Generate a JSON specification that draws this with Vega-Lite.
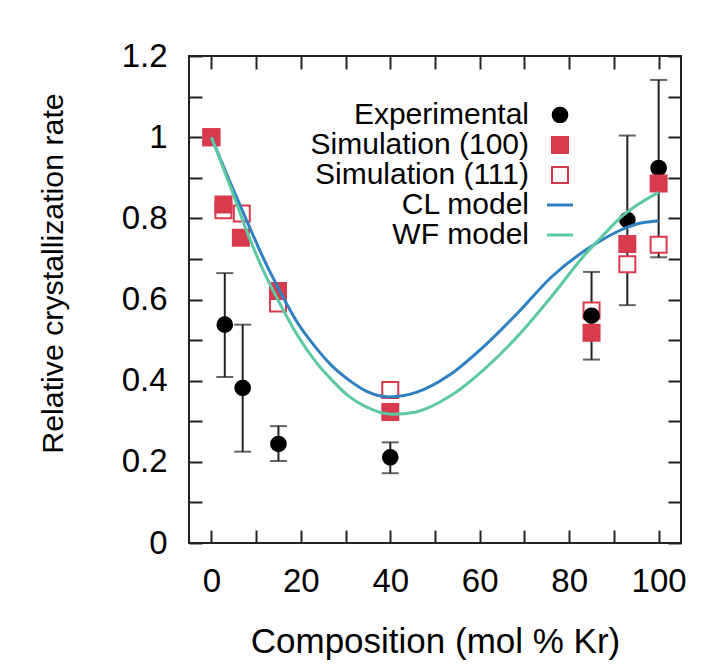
{
  "$schema": "https://vega.github.io/schema/vega-lite/v6.json",
  "width": 492,
  "height": 487,
  "autosize": {"type": "none"},
  "padding": {"left": 189, "top": 56, "right": 46, "bottom": 129},
  "background": "white",
  "config": {
    "font": "Liberation Sans",
    "view": {"stroke": "#222", "strokeWidth": 2},
    "axis": {
      "domain": false,
      "grid": false,
      "zindex": 1,
      "tickColor": "#222",
      "tickWidth": 2,
      "tickSize": -13,
      "labelColor": "black",
      "titleColor": "black",
      "labelFont": "Liberation Sans",
      "labelFontSize": 33,
      "titleFont": "Liberation Sans",
      "titleFontWeight": "normal"
    },
    "legend": {
      "orient": "none",
      "legendX": 356,
      "legendY": 44,
      "padding": 0,
      "labelFont": "Liberation Sans",
      "labelFontSize": 30,
      "labelColor": "black",
      "labelAlign": "right",
      "labelOffset": -46,
      "labelLimit": 400,
      "rowPadding": 0
    }
  },
  "datasets": {
    "points": [
      {"series": "Simulation (111)", "x": 0, "y": 1.0},
      {"series": "Simulation (111)", "x": 2.7, "y": 0.82},
      {"series": "Simulation (111)", "x": 6.8, "y": 0.812},
      {"series": "Simulation (111)", "x": 14.9, "y": 0.59},
      {"series": "Simulation (111)", "x": 40, "y": 0.377},
      {"series": "Simulation (111)", "x": 85, "y": 0.573},
      {"series": "Simulation (111)", "x": 93, "y": 0.687},
      {"series": "Simulation (111)", "x": 100, "y": 0.735},
      {"series": "Experimental", "x": 3, "y": 0.538},
      {"series": "Experimental", "x": 7, "y": 0.382},
      {"series": "Experimental", "x": 15, "y": 0.244},
      {"series": "Experimental", "x": 40, "y": 0.211},
      {"series": "Experimental", "x": 85, "y": 0.56},
      {"series": "Experimental", "x": 93, "y": 0.796},
      {"series": "Experimental", "x": 100, "y": 0.924},
      {"series": "Simulation (100)", "x": 0, "y": 1.0},
      {"series": "Simulation (100)", "x": 2.7, "y": 0.834},
      {"series": "Simulation (100)", "x": 6.6, "y": 0.752},
      {"series": "Simulation (100)", "x": 14.9, "y": 0.621},
      {"series": "Simulation (100)", "x": 40, "y": 0.323},
      {"series": "Simulation (100)", "x": 85, "y": 0.518},
      {"series": "Simulation (100)", "x": 93, "y": 0.737},
      {"series": "Simulation (100)", "x": 100, "y": 0.886}
    ],
    "errors": [
      {"x": 3, "lo": 0.409, "hi": 0.665},
      {"x": 7, "lo": 0.225, "hi": 0.538},
      {"x": 15, "lo": 0.202, "hi": 0.288},
      {"x": 40, "lo": 0.172, "hi": 0.248},
      {"x": 85, "lo": 0.452, "hi": 0.668},
      {"x": 93, "lo": 0.586, "hi": 1.004},
      {"x": 100, "lo": 0.704, "hi": 1.141}
    ],
    "models": [
      {"series": "CL model", "x": 0, "y": 1.0},
      {"series": "CL model", "x": 4.2, "y": 0.889},
      {"series": "CL model", "x": 8, "y": 0.792},
      {"series": "CL model", "x": 11.7, "y": 0.7},
      {"series": "CL model", "x": 15.5, "y": 0.617},
      {"series": "CL model", "x": 19.3, "y": 0.542},
      {"series": "CL model", "x": 23.1, "y": 0.485},
      {"series": "CL model", "x": 26.9, "y": 0.437},
      {"series": "CL model", "x": 30.7, "y": 0.402},
      {"series": "CL model", "x": 34.5, "y": 0.375},
      {"series": "CL model", "x": 39.8, "y": 0.36},
      {"series": "CL model", "x": 45.8, "y": 0.371},
      {"series": "CL model", "x": 53.4, "y": 0.415},
      {"series": "CL model", "x": 61, "y": 0.485},
      {"series": "CL model", "x": 68.6, "y": 0.568},
      {"series": "CL model", "x": 76.1, "y": 0.656},
      {"series": "CL model", "x": 83.7, "y": 0.722},
      {"series": "CL model", "x": 87.5, "y": 0.748},
      {"series": "CL model", "x": 91.3, "y": 0.77},
      {"series": "CL model", "x": 95.1, "y": 0.786},
      {"series": "CL model", "x": 100, "y": 0.794},
      {"series": "WF model", "x": 0, "y": 1.0},
      {"series": "WF model", "x": 4.2, "y": 0.88},
      {"series": "WF model", "x": 8, "y": 0.766},
      {"series": "WF model", "x": 11.7, "y": 0.669},
      {"series": "WF model", "x": 15.5, "y": 0.586},
      {"series": "WF model", "x": 19.3, "y": 0.511},
      {"series": "WF model", "x": 23.1, "y": 0.45},
      {"series": "WF model", "x": 26.9, "y": 0.402},
      {"series": "WF model", "x": 30.7, "y": 0.362},
      {"series": "WF model", "x": 34.5, "y": 0.336},
      {"series": "WF model", "x": 40.5, "y": 0.317},
      {"series": "WF model", "x": 45.8, "y": 0.323},
      {"series": "WF model", "x": 53.4, "y": 0.362},
      {"series": "WF model", "x": 61, "y": 0.428},
      {"series": "WF model", "x": 68.6, "y": 0.511},
      {"series": "WF model", "x": 76.1, "y": 0.608},
      {"series": "WF model", "x": 83.7, "y": 0.713},
      {"series": "WF model", "x": 87.5, "y": 0.757},
      {"series": "WF model", "x": 91.3, "y": 0.8},
      {"series": "WF model", "x": 95.1, "y": 0.832},
      {"series": "WF model", "x": 100, "y": 0.864}
    ]
  },
  "layer": [
    {
      "data": {"name": "errors"},
      "mark": {"type": "errorbar", "ticks": {"size": 17}, "thickness": 2, "color": "#222"},
      "encoding": {
        "x": {"field": "x", "type": "quantitative", "scale": {"domain": [-5, 105], "nice": false}, "axis": null},
        "y": {"field": "lo", "type": "quantitative", "scale": {"domain": [0, 1.2], "nice": false}, "axis": null},
        "y2": {"field": "hi"}
      }
    },
    {
      "data": {"name": "points"},
      "mark": {"type": "point", "opacity": 1},
      "encoding": {
        "x": {
          "field": "x", "type": "quantitative",
          "scale": {"domain": [-5, 105], "nice": false},
          "axis": {
            "orient": "top", "values": [0, 10, 20, 30, 40, 50, 60, 70, 80, 90, 100],
            "labels": false, "title": null,
            "encode": {"ticks": {"update": {"y2": {"signal": "datum.value % 20 === 0 ? 13 : 7"}}}}
          }
        },
        "y": {
          "field": "y", "type": "quantitative",
          "scale": {"domain": [0, 1.2], "nice": false},
          "axis": {
            "orient": "right", "values": [0, 0.1, 0.2, 0.3, 0.4, 0.5, 0.6, 0.7, 0.8, 0.9, 1, 1.1, 1.2],
            "labels": false, "title": null,
            "encode": {"ticks": {"update": {"x2": {"signal": "round(datum.value * 10) % 2 === 0 ? -13 : -7"}}}}
          }
        },
        "shape": {
          "field": "series", "type": "nominal",
          "scale": {"domain": ["Experimental", "Simulation (100)", "Simulation (111)", "CL model", "WF model"], "range": ["circle", "square", "square", "stroke", "stroke"]},
          "legend": {"title": null}
        },
        "fill": {
          "field": "series", "type": "nominal",
          "scale": {"domain": ["Experimental", "Simulation (100)", "Simulation (111)", "CL model", "WF model"], "range": ["black", "#d83a4e", "white", "transparent", "transparent"]},
          "legend": {"title": null}
        },
        "stroke": {
          "field": "series", "type": "nominal",
          "scale": {"domain": ["Experimental", "Simulation (100)", "Simulation (111)", "CL model", "WF model"], "range": ["black", "#d83a4e", "#d83a4e", "#2f80c0", "#5cc8a4"]},
          "legend": {"title": null}
        },
        "size": {
          "field": "series", "type": "nominal",
          "scale": {"type": "ordinal", "domain": ["Experimental", "Simulation (100)", "Simulation (111)", "CL model", "WF model"], "range": [215, 256, 256, 676, 676]},
          "legend": {"title": null}
        },
        "strokeWidth": {
          "field": "series", "type": "nominal",
          "scale": {"type": "ordinal", "domain": ["Experimental", "Simulation (100)", "Simulation (111)", "CL model", "WF model"], "range": [2, 2, 2, 3, 3]},
          "legend": {"title": null}
        }
      }
    },
    {
      "data": {"name": "models"},
      "mark": {"type": "line", "interpolate": "monotone"},
      "encoding": {
        "x": {
          "field": "x", "type": "quantitative",
          "scale": {"domain": [-5, 105], "nice": false},
          "axis": {
            "orient": "bottom", "values": [0, 10, 20, 30, 40, 50, 60, 70, 80, 90, 100],
            "labelExpr": "datum.value % 20 === 0 ? datum.label : ''",
            "labelPadding": 35,
            "encode": {"ticks": {"update": {"y2": {"signal": "datum.value % 20 === 0 ? -13 : -7"}}}},
            "title": "Composition (mol % Kr)",
            "titleFontSize": 35,
            "titleY": 109,
            "titleBaseline": "alphabetic"
          }
        },
        "y": {
          "field": "y", "type": "quantitative",
          "scale": {"domain": [0, 1.2], "nice": false},
          "axis": {
            "orient": "left", "values": [0, 0.1, 0.2, 0.3, 0.4, 0.5, 0.6, 0.7, 0.8, 0.9, 1, 1.1, 1.2],
            "labelExpr": "round(datum.value * 10) % 2 === 0 ? toString(round(datum.value * 10) / 10) : ''",
            "labelPadding": 35,
            "encode": {"ticks": {"update": {"x2": {"signal": "round(datum.value * 10) % 2 === 0 ? 13 : 7"}}}},
            "title": "Relative crystallization rate",
            "titleFontSize": 30.3,
            "titleX": -127,
            "titleY": 217,
            "titleAlign": "center",
            "titleBaseline": "alphabetic"
          }
        },
        "stroke": {
          "field": "series", "type": "nominal",
          "scale": {"domain": ["Experimental", "Simulation (100)", "Simulation (111)", "CL model", "WF model"], "range": ["black", "#d83a4e", "#d83a4e", "#2f80c0", "#5cc8a4"]},
          "legend": {"title": null}
        },
        "strokeWidth": {
          "field": "series", "type": "nominal",
          "scale": {"type": "ordinal", "domain": ["Experimental", "Simulation (100)", "Simulation (111)", "CL model", "WF model"], "range": [2, 2, 2, 3, 3]},
          "legend": {"title": null}
        }
      }
    }
  ],
  "resolve": {"axis": {"x": "independent", "y": "independent"}}
}
